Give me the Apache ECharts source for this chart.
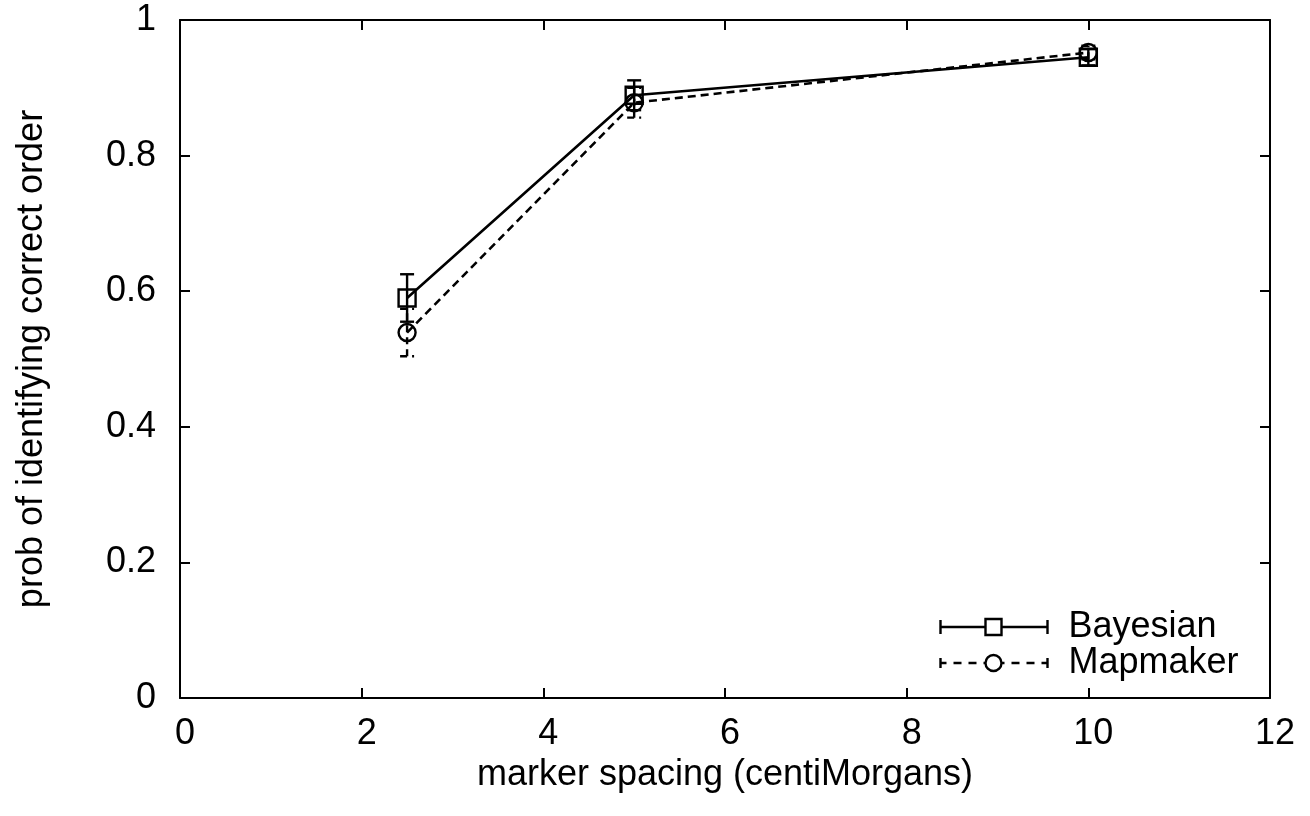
<!DOCTYPE html>
<html><head><meta charset="utf-8">
<script src="https://cdn.jsdelivr.net/npm/echarts@6/dist/echarts.min.js"></script>
<style>html,body{margin:0;padding:0;background:#fff}#c{width:1310px;height:816px}</style>
</head><body><div id="c"></div>
<script>
const spacing = [2.5, 5, 10];
const bayesian = [0.59, 0.889, 0.945];
const bayesianErr = [0.035, 0.022, 0.012];
const mapmaker = [0.539, 0.878, 0.952];
const mapmakerErr = [0.035, 0.022, 0.01];
const xTicks = [0, 2, 4, 6, 8, 10, 12];
const yTicks = [0, 0.2, 0.4, 0.6, 0.8, 1];

const FONT = 'Liberation Sans';
const FS = 36;
const chart = echarts.init(document.getElementById('c'), null, {renderer: 'canvas'});

function errData(vals, errs) {
  return spacing.map((x, i) => [x, vals[i] - errs[i], vals[i] + errs[i]]);
}
function errSeries(name, vals, errs, dashed) {
  return {
    type: 'custom', name: name + ' err', silent: true, z: 3,
    data: errData(vals, errs),
    renderItem: function (params, api) {
      const lo = api.coord([api.value(0), api.value(1)]);
      const hi = api.coord([api.value(0), api.value(2)]);
      const w = 7;
      const st = {stroke: '#000', lineWidth: 2.4, fill: null, lineDash: dashed ? [7, 5] : null};
      return {type: 'group', children: [
        {type: 'line', shape: {x1: lo[0], y1: lo[1], x2: hi[0], y2: hi[1]}, style: st},
        {type: 'line', shape: {x1: lo[0] - w, y1: lo[1], x2: lo[0] + w, y2: lo[1]}, style: st},
        {type: 'line', shape: {x1: hi[0] - w, y1: hi[1], x2: hi[0] + w, y2: hi[1]}, style: st}
      ]};
    }
  };
}
const iconB = 'path://M0 3 L0 17 M0 10 L45 10 M61 10 L107 10 M107 3 L107 17 M45 2 L61 2 L61 18 L45 18 Z';
const iconM = 'path://M0 5 L0 15 M0 10 L6 10 M13 10 L21 10 M28 10 L36 10 M43 10 L45 10 M45 10 A8 8 0 1 1 61 10 A8 8 0 1 1 45 10 M61 10 L64 10 M71 10 L79 10 M86 10 L94 10 M101 10 L107 10 M107 5 L107 15';

function axisBase() {
  return {
    axisLine: {onZero: false, lineStyle: {color: '#000', width: 2}},
    axisTick: {inside: true, length: 10, lineStyle: {color: '#000', width: 2}},
    splitLine: {show: false},
    axisLabel: {color: '#000', fontFamily: FONT, fontSize: FS}
  };
}

chart.setOption({
  animation: false,
  backgroundColor: '#fff',
  grid: {left: 180, top: 20, right: 40, bottom: 118, show: false},
  legend: {
    left: 933, bottom: 130, orient: 'vertical', itemGap: 0,
    itemWidth: 107, itemHeight: 20, align: 'left',
    textStyle: {fontFamily: FONT, fontSize: FS, color: '#000', padding: [0, 0, 0, 16]},
    data: [
      {name: 'Bayesian', icon: iconB, itemStyle: {color: 'none', borderColor: '#000', borderWidth: 2.4}},
      {name: 'Mapmaker', icon: iconM, itemStyle: {color: 'none', borderColor: '#000', borderWidth: 2.4}}
    ]
  },
  xAxis: [
    Object.assign(axisBase(), {
      type: 'value', min: 0, max: 12, interval: 2, position: 'bottom',
      name: 'marker spacing (centiMorgans)', nameLocation: 'middle', nameGap: 48,
      nameTextStyle: {fontFamily: FONT, fontSize: FS, color: '#000'},
      axisLabel: {color: '#000', fontFamily: FONT, fontSize: FS, margin: 18, padding: [0, 0, 0, 10]}
    }),
    Object.assign(axisBase(), {
      type: 'value', min: 0, max: 12, interval: 2, position: 'top',
      axisLabel: {show: false}
    })
  ],
  yAxis: [
    Object.assign(axisBase(), {
      type: 'value', min: 0, max: 1, interval: 0.2, position: 'left',
      name: 'prob of identifying correct order', nameLocation: 'middle', nameGap: 130,
      nameTextStyle: {fontFamily: FONT, fontSize: FS, color: '#000'},
      axisLabel: {color: '#000', fontFamily: FONT, fontSize: FS, margin: 24}
    }),
    Object.assign(axisBase(), {
      type: 'value', min: 0, max: 1, interval: 0.2, position: 'right',
      axisLabel: {show: false}
    })
  ],
  series: [
    {
      name: 'Bayesian', type: 'line', z: 4,
      data: spacing.map((x, i) => [x, bayesian[i]]),
      symbol: 'rect', symbolSize: 17,
      lineStyle: {color: '#000', width: 2.6},
      itemStyle: {color: 'rgba(0,0,0,0)', borderColor: '#000', borderWidth: 2.4}
    },
    {
      name: 'Mapmaker', type: 'line', z: 4,
      data: spacing.map((x, i) => [x, mapmaker[i]]),
      symbol: 'circle', symbolSize: 17,
      lineStyle: {color: '#000', width: 2.6, type: [8, 5]},
      itemStyle: {color: 'rgba(0,0,0,0)', borderColor: '#000', borderWidth: 2.4}
    },
    errSeries('Bayesian', bayesian, bayesianErr, false),
    errSeries('Mapmaker', mapmaker, mapmakerErr, true)
  ]
});
</script></body></html>
